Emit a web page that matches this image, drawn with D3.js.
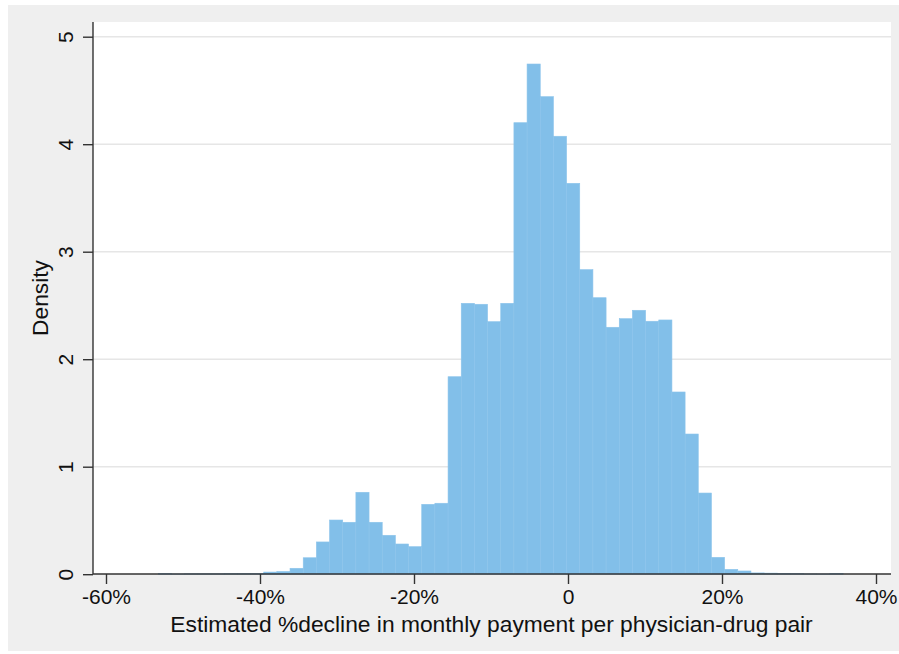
<!DOCTYPE html>
<html>
<head>
<meta charset="utf-8">
<script src="https://cdn.jsdelivr.net/npm/d3@7"></script>
<style>
  body { margin: 0; background: #fff; }
  svg text { font-family: "Liberation Sans", Arial, Helvetica, sans-serif; fill: #111; }
</style>
</head>
<body>
<div id="chart"></div>
<script>
// histogram bins: start (%), width (%), density per bin
const binStart = -53.2
const binWidth = 1.7102
const density = [
  0.006, 0.002, 0.004, 0.004, 0.004, 0.005, 0.005, 0.006, 0.02, 0.025,
  0.055, 0.153, 0.30, 0.504, 0.483, 0.762, 0.483, 0.362, 0.281, 0.256,
  0.650, 0.660, 1.837, 2.520, 2.511, 2.349, 2.520, 4.20, 4.746, 4.442,
  4.074, 3.636, 2.833, 2.572, 2.297, 2.377, 2.455, 2.353, 2.365, 1.695,
  1.304, 0.755, 0.157, 0.045, 0.03, 0.012, 0.01, 0.008, 0.006, 0.003,
  0.002, 0.007
]
const xTicks = [-60, -40, -20, 0, 20, 40]
const yTicks = [0, 1, 2, 3, 4, 5]
const xTitle = "Estimated %decline in monthly payment per physician-drug pair"
const yTitle = "Density"

const width = 899, height = 654
const plot = {left: 93, right: 891, top: 22, bottom: 574}

const svg = d3.select("#chart").append("svg")
  .attr("width", width).attr("height", height)

// outer background
svg.append("rect")
  .attr("x", 8).attr("y", 5)
  .attr("width", width - 8).attr("height", height - 8)
  .attr("fill", "#efefef")

// plot region
svg.append("rect")
  .attr("x", plot.left).attr("y", plot.top)
  .attr("width", plot.right - plot.left).attr("height", plot.bottom - plot.top)
  .attr("fill", "#fff")

let x = d3.scaleLinear().domain([-60, 40]).range([106, 876])
let y = d3.scaleLinear().domain([0, 5]).range([574.2, 36.7])

// gridlines
svg.append("g").selectAll("line")
  .data(yTicks.filter(d => d > 0))
  .enter().append("line")
  .attr("x1", plot.left).attr("x2", plot.right)
  .attr("y1", d => y(d)).attr("y2", d => y(d))
  .attr("stroke", "#e6e6e6").attr("stroke-width", 1.5)

// bars
svg.append("g").selectAll("rect")
  .data(density)
  .enter().append("rect")
  .attr("x", (d, i) => x(binStart + i * binWidth))
  .attr("width", x(binWidth) - x(0))
  .attr("y", d => y(d))
  .attr("height", d => y(0) - y(d))
  .attr("fill", "#82bfe9")
  .attr("stroke", "#8cc4eb")
  .attr("stroke-width", 0.6)

// x axis
const xAxis = d3.axisBottom(x)
  .tickValues(xTicks)
  .tickSize(10)
  .tickPadding(5)
  .tickFormat(d => d === 0 ? "0" : d + "%")
const gx = svg.append("g")
  .attr("transform", `translate(0,${plot.bottom})`)
  .call(xAxis)
gx.select(".domain").remove()
gx.append("line")
  .attr("x1", plot.left).attr("x2", plot.right)
  .attr("stroke", "#333").attr("stroke-width", 1.4)
gx.selectAll(".tick line").attr("stroke", "#333").attr("stroke-width", 1.4)
gx.selectAll(".tick text")
  .attr("font-size", 21).attr("fill", "#111")
  .style("font-family", "Liberation Sans, Arial, sans-serif")

// y axis
const yAxis = d3.axisLeft(y)
  .tickValues(yTicks)
  .tickSize(10)
  .tickFormat(d3.format("d"))
const gy = svg.append("g")
  .attr("transform", `translate(${plot.left},0)`)
  .call(yAxis)
gy.select(".domain").remove()
gy.append("line")
  .attr("y1", plot.top).attr("y2", plot.bottom)
  .attr("stroke", "#333").attr("stroke-width", 1.4)
gy.selectAll(".tick line").attr("stroke", "#333").attr("stroke-width", 1.4)
gy.selectAll(".tick text")
  .attr("font-size", 21).attr("fill", "#111")
  .style("font-family", "Liberation Sans, Arial, sans-serif")
  .attr("x", null).attr("dy", null)
  .attr("text-anchor", "middle")
  .attr("transform", "translate(-20,0) rotate(-90)")

// axis titles
svg.append("text")
  .attr("x", 491.5)
  .attr("y", 632)
  .attr("text-anchor", "middle")
  .attr("font-size", 22.8)
  .text(xTitle)

svg.append("text")
  .attr("transform", `translate(48,${(plot.top + plot.bottom) / 2}) rotate(-90)`)
  .attr("text-anchor", "middle")
  .attr("font-size", 22.8)
  .text(yTitle)
</script>
</body>
</html>
